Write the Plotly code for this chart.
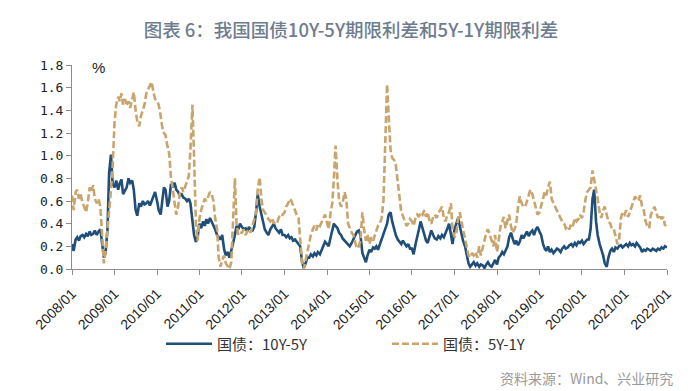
import pandas as pd
import plotly.graph_objects as go

# ---- data (semi-monthly readings, 1st and 15th of each month) ----
dates = pd.date_range("2008-01-01", "2022-01-01", freq="SMS")

spread_10y_5y = [
    0.22, 0.16, 0.26, 0.28, 0.25, 0.29, 0.30, 0.28, 0.31, 0.29, 0.33, 0.30, 0.31, 0.34, 0.30, 0.33, 0.35, 0.24, 0.10, 0.14, 0.35, 0.85, 1.01, 0.75,
    0.72, 0.78, 0.70, 0.76, 0.79, 0.66, 0.70, 0.72, 0.80, 0.76, 0.78, 0.70, 0.52, 0.47, 0.58, 0.55, 0.60, 0.57, 0.58, 0.60, 0.56, 0.60, 0.63, 0.68,
    0.60, 0.52, 0.48, 0.62, 0.72, 0.70, 0.55, 0.60, 0.75, 0.72, 0.76, 0.70, 0.68, 0.65, 0.66, 0.63, 0.62, 0.60, 0.62, 0.58, 0.45, 0.30, 0.24, 0.28,
    0.40, 0.36, 0.42, 0.38, 0.44, 0.40, 0.45, 0.42, 0.38, 0.35, 0.30, 0.28, 0.26, 0.30, 0.17, 0.12, 0.15, 0.10, 0.18, 0.22, 0.30, 0.38, 0.35, 0.40,
    0.37, 0.35, 0.36, 0.33, 0.37, 0.35, 0.34, 0.37, 0.50, 0.66, 0.55, 0.48, 0.40, 0.35, 0.32, 0.30, 0.35, 0.38, 0.40, 0.36, 0.34, 0.32, 0.35, 0.30,
    0.30, 0.28, 0.30, 0.27, 0.28, 0.25, 0.26, 0.24, 0.22, 0.20, 0.06, 0.01, 0.05, 0.10, 0.10, 0.13, 0.11, 0.14, 0.12, 0.15, 0.13, 0.17, 0.20, 0.24,
    0.22, 0.20, 0.28, 0.34, 0.40, 0.38, 0.36, 0.32, 0.30, 0.27, 0.25, 0.24, 0.22, 0.20, 0.23, 0.26, 0.30, 0.33, 0.34, 0.30, 0.14, 0.10, 0.06, 0.12,
    0.17, 0.15, 0.19, 0.18, 0.20, 0.17, 0.22, 0.26, 0.30, 0.34, 0.40, 0.48, 0.50, 0.42, 0.34, 0.30, 0.26, 0.24, 0.22, 0.25, 0.22, 0.20, 0.22, 0.18,
    0.18, 0.13, 0.22, 0.30, 0.35, 0.42, 0.36, 0.30, 0.25, 0.23, 0.30, 0.34, 0.30, 0.27, 0.26, 0.29, 0.27, 0.30, 0.28, 0.31, 0.36, 0.40, 0.30, 0.22,
    0.35, 0.40, 0.45, 0.38, 0.30, 0.25, 0.20, 0.12, 0.05, 0.02, 0.04, 0.06, 0.03, 0.05, 0.02, 0.04, 0.03, 0.01, 0.04, 0.06, 0.03, 0.02, 0.05, 0.08,
    0.04, 0.10, 0.12, 0.15, 0.13, 0.16, 0.20, 0.28, 0.32, 0.27, 0.22, 0.25, 0.21, 0.24, 0.30, 0.27, 0.30, 0.33, 0.29, 0.32, 0.34, 0.30, 0.35, 0.37,
    0.33, 0.30, 0.22, 0.18, 0.16, 0.20, 0.15, 0.17, 0.14, 0.16, 0.18, 0.17, 0.15, 0.18, 0.20, 0.18, 0.19, 0.21, 0.22, 0.20, 0.23, 0.21, 0.24, 0.23,
    0.25, 0.22, 0.24, 0.26, 0.26, 0.35, 0.62, 0.70, 0.42, 0.30, 0.22, 0.18, 0.12, 0.05, 0.02, 0.10, 0.16, 0.18, 0.15, 0.19, 0.18, 0.20, 0.21, 0.19,
    0.21, 0.22, 0.20, 0.23, 0.21, 0.22, 0.20, 0.23, 0.21, 0.19, 0.15, 0.17, 0.16, 0.18, 0.17, 0.16, 0.18, 0.17, 0.16, 0.18, 0.17, 0.19, 0.18, 0.20,
    0.19,
]

spread_5y_1y = [
    0.65, 0.52, 0.68, 0.70, 0.62, 0.66, 0.58, 0.55, 0.50, 0.58, 0.72, 0.68, 0.74, 0.62, 0.58, 0.62, 0.55, 0.35, 0.05, 0.15, 0.35, 0.45, 0.70, 0.90,
    1.30, 1.45, 1.52, 1.48, 1.55, 1.45, 1.50, 1.44, 1.48, 1.42, 1.50, 1.56, 1.40, 1.30, 1.26, 1.35, 1.40, 1.45, 1.55, 1.58, 1.62, 1.65, 1.56, 1.50,
    1.48, 1.45, 1.35, 1.25, 1.20, 1.18, 1.08, 1.02, 0.80, 0.72, 0.58, 0.48, 0.55, 0.66, 0.72, 0.68, 0.73, 0.78, 0.82, 1.05, 1.45, 1.00, 0.40, 0.25,
    0.45, 0.52, 0.58, 0.62, 0.60, 0.64, 0.68, 0.66, 0.60, 0.45, 0.35, 0.10, 0.02, 0.08, 0.12, 0.05, 0.02, 0.00, 0.06, 0.45, 0.80, 0.40, 0.30, 0.32,
    0.32, 0.35, 0.30, 0.33, 0.35, 0.32, 0.38, 0.42, 0.50, 0.70, 0.81, 0.62, 0.52, 0.50, 0.46, 0.44, 0.42, 0.45, 0.40, 0.43, 0.42, 0.46, 0.45, 0.48,
    0.50, 0.55, 0.58, 0.62, 0.60, 0.56, 0.52, 0.48, 0.45, 0.25, 0.05, 0.00, 0.08, 0.15, 0.25, 0.30, 0.35, 0.38, 0.34, 0.40, 0.38, 0.42, 0.45, 0.48,
    0.42, 0.35, 0.50, 0.58, 0.80, 1.09, 0.78, 0.60, 0.55, 0.58, 0.68, 0.62, 0.40, 0.36, 0.32, 0.30, 0.22, 0.18, 0.20, 0.25, 0.50, 0.35, 0.25, 0.30,
    0.22, 0.28, 0.25, 0.30, 0.35, 0.38, 0.40, 0.45, 0.60, 1.10, 1.63, 1.35, 1.05, 0.98, 0.96, 0.92, 0.75, 0.60, 0.50, 0.47, 0.42, 0.38, 0.40, 0.44,
    0.42, 0.38, 0.45, 0.48, 0.46, 0.50, 0.48, 0.52, 0.46, 0.50, 0.42, 0.40, 0.46, 0.48, 0.45, 0.50, 0.52, 0.55, 0.45, 0.42, 0.48, 0.50, 0.58, 0.35,
    0.28, 0.30, 0.45, 0.50, 0.42, 0.35, 0.25, 0.18, 0.12, 0.10, 0.14, 0.12, 0.15, 0.10, 0.20, 0.12, 0.18, 0.25, 0.32, 0.35, 0.30, 0.25, 0.20, 0.30,
    0.15, 0.25, 0.38, 0.42, 0.46, 0.36, 0.42, 0.48, 0.38, 0.32, 0.35, 0.40, 0.55, 0.64, 0.58, 0.55, 0.55, 0.60, 0.64, 0.70, 0.66, 0.60, 0.52, 0.48,
    0.50, 0.55, 0.62, 0.68, 0.65, 0.72, 0.77, 0.62, 0.58, 0.55, 0.50, 0.48, 0.45, 0.42, 0.40, 0.36, 0.38, 0.35, 0.40, 0.38, 0.45, 0.42, 0.44, 0.48,
    0.45, 0.50, 0.62, 0.68, 0.70, 0.72, 0.87, 0.80, 0.70, 0.62, 0.50, 0.45, 0.52, 0.55, 0.48, 0.42, 0.40, 0.35, 0.35, 0.30, 0.22, 0.25, 0.45, 0.50,
    0.48, 0.52, 0.46, 0.50, 0.55, 0.60, 0.64, 0.62, 0.60, 0.65, 0.55, 0.52, 0.42, 0.38, 0.36, 0.48, 0.52, 0.55, 0.50, 0.45, 0.48, 0.44, 0.46, 0.38,
    0.42,
]

tick_dates = ["2008-01-01", "2009-01-01", "2010-01-01", "2011-01-01", "2012-01-01",
              "2013-01-01", "2014-01-01", "2015-01-01", "2016-01-01", "2017-01-01",
              "2018-01-01", "2019-01-01", "2020-01-01", "2021-01-01", "2022-01-01"]
tick_labels = ["2008/01", "2009/01", "2010/01", "2011/01", "2012/01", "2013/01", "2014/01",
               "2015/01", "2016/01", "2017/01", "2018/01", "2019/01", "2020/01", "2021/01", "2022/01"]
y_ticks = [0.0, 0.2, 0.4, 0.6, 0.8, 1.0, 1.2, 1.4, 1.6, 1.8]

name_a = "国债：10Y-5Y"
name_b = "国债：5Y-1Y"
title_text = "图表 6：我国国债10Y-5Y期限利差和5Y-1Y期限利差"
source_text = "资料来源：Wind、兴业研究"

BLUE = "#1f4e79"
TAN = "#c9a46c"
AXIS = "#8c8c8c"

# The page body has an 8px default margin, so layout pixels = screen pixels - 8.
OFF = 8
W, H = 700 - OFF, 391 - OFF
# target plot area on screen: x 72..667, y 65..269
PX_L, PX_R, PX_T, PX_B = 72 - OFF, 667 - OFF, 65 - OFF, 269 - OFF
def px_x(sx):
    return (sx - OFF - PX_L) / (PX_R - PX_L)
def px_y(sy):
    return (PX_B - (sy - OFF)) / (PX_B - PX_T)

fig = go.Figure()
fig.add_trace(go.Scatter(x=dates, y=spread_10y_5y, mode="lines", name=name_a,
                         line=dict(color=BLUE, width=2.6)))
fig.add_trace(go.Scatter(x=dates, y=spread_5y_1y, mode="lines", name=name_b,
                         line=dict(color=TAN, width=2.6, dash="7px,3px")))

fig.update_layout(
    width=W, height=H,
    margin=dict(l=PX_L, r=W - PX_R, t=PX_T, b=H - PX_B),
    paper_bgcolor="white", plot_bgcolor="white",
    showlegend=True,
    title=dict(text=title_text, x=(351 - OFF) / W, xanchor="center", xref="container",
               y=1 - (31 - OFF) / H, yanchor="middle", automargin=False,
               font=dict(family="Noto Sans CJK SC", size=18.5, color="#6e7c8f", weight=500)),
    legend=dict(orientation="h", xref="container", yref="container",
                x=(161 - OFF) / W, xanchor="left", y=1 - (344 - OFF) / H, yanchor="middle",
                entrywidth=165, entrywidthmode="pixels", itemwidth=46,
                font=dict(family="Noto Sans CJK SC", size=15, color="#333333"),
                bgcolor="rgba(0,0,0,0)"),
    xaxis=dict(type="date", range=["2008-01-01", "2022-01-01"], automargin=False,
               tickmode="array", tickvals=tick_dates, ticktext=tick_labels,
               tickangle=-45, ticks="outside", ticklen=5, tickcolor=AXIS,
               ticklabelstandoff=5,
               showline=True, linecolor=AXIS, linewidth=1, showgrid=False, zeroline=False,
               tickfont=dict(family="Liberation Sans, Arial", size=14, color="#222222")),
    yaxis=dict(range=[0, 1.8], tickmode="array", tickvals=y_ticks, automargin=False,
               ticktext=[f"{v:.1f}" for v in y_ticks],
               ticks="outside", ticklen=5, tickcolor=AXIS,
               showline=True, linecolor=AXIS, linewidth=1, showgrid=False, zeroline=False,
               tickfont=dict(family="DejaVu Sans Mono", size=13, color="#222222")),
    annotations=[
        dict(text="%", xref="paper", yref="paper", x=px_x(98), y=px_y(68),
             xanchor="center", yanchor="middle", showarrow=False,
             font=dict(family="Liberation Sans, Arial", size=15, color="#222222")),
        dict(text=source_text, xref="paper", yref="paper",
             x=px_x(675), y=px_y(378), xanchor="right", yanchor="middle", showarrow=False,
             font=dict(family="Noto Sans CJK SC", size=14, color="#9a9a9a")),
    ],
)

fig.write_html("out.html")
